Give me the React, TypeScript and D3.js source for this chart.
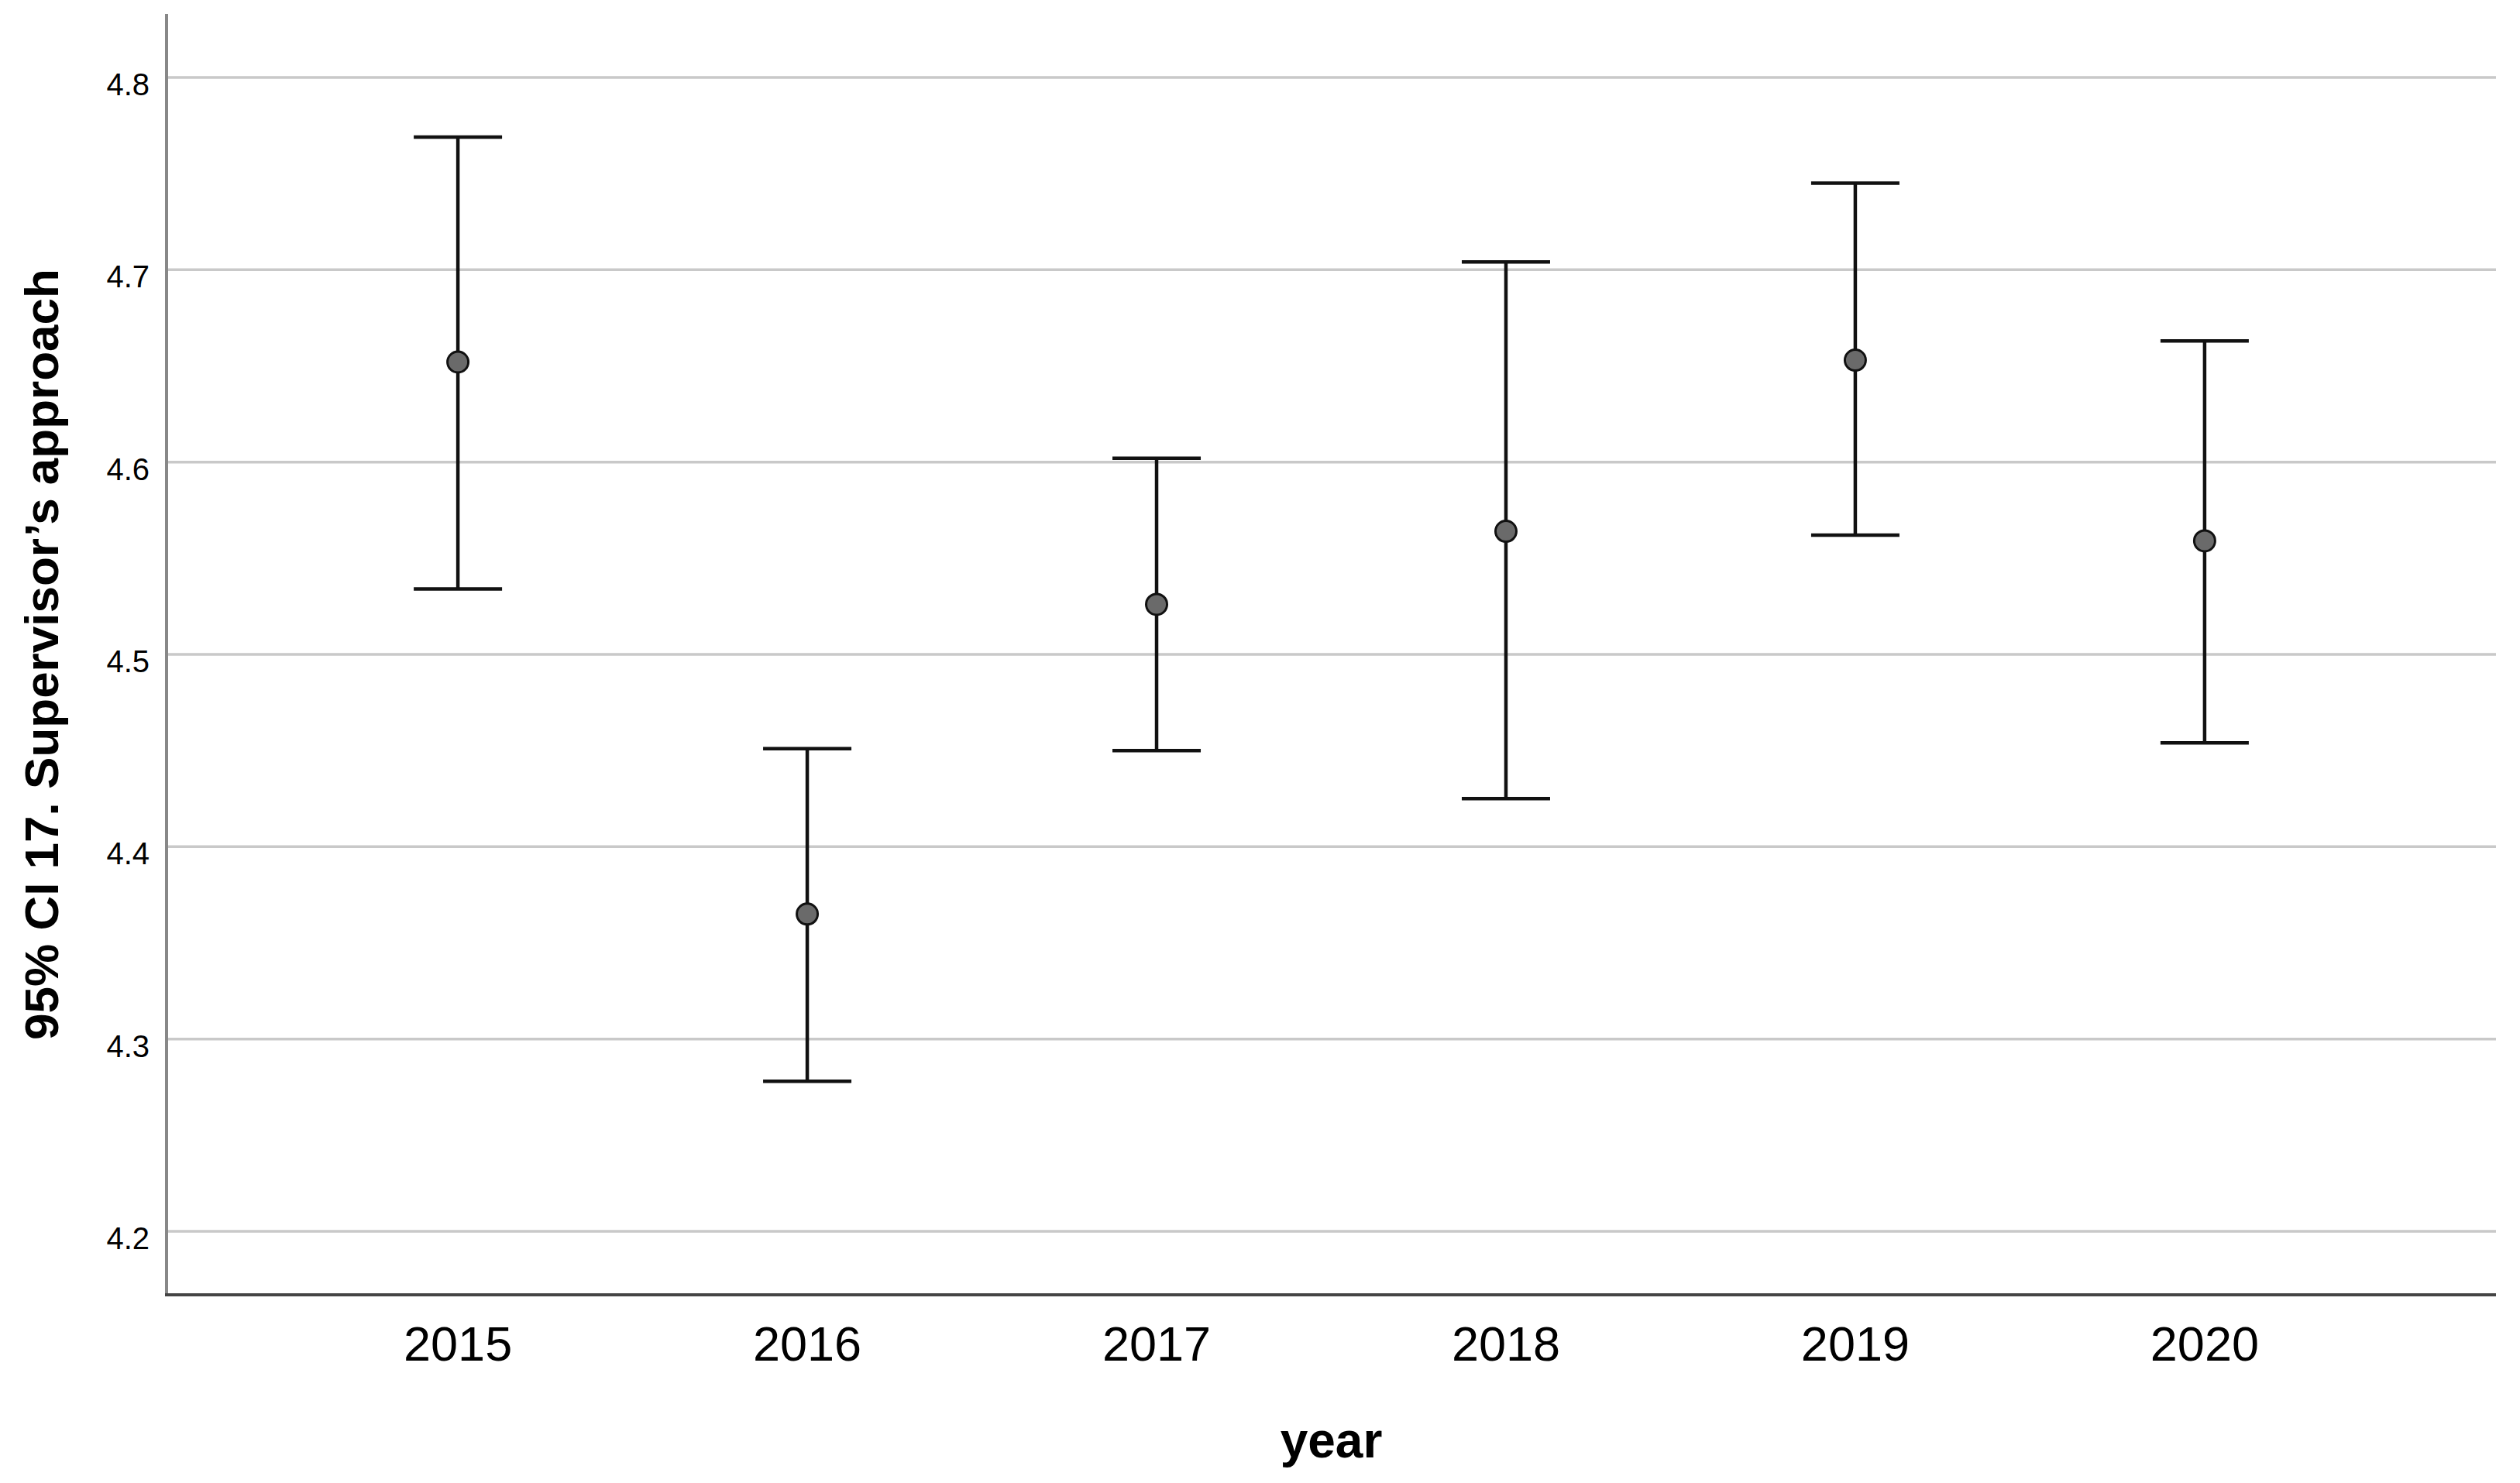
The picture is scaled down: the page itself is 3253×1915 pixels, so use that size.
import React from "react";
import * as d3 from "d3";

const years = ["2015", "2016", "2017", "2018", "2019", "2020"];
const means = [4.652, 4.365, 4.526, 4.564, 4.653, 4.559];
const lowers = [4.534, 4.278, 4.450, 4.425, 4.562, 4.454];
const uppers = [4.769, 4.451, 4.602, 4.704, 4.745, 4.663];
const yTicks = [4.2, 4.3, 4.4, 4.5, 4.6, 4.7, 4.8];
const yDomain = [4.167, 4.833];

const W = 3253;
const H = 1915;
const left = 215;
const right = 3222;
const top = 18;
const bottom = 1672;
const font = "'Liberation Sans', Arial, sans-serif";

export default function App() {
  const x = d3.scalePoint<string>().domain(years).range([left, right]).padding(0.834);
  const y = d3.scaleLinear().domain(yDomain).range([bottom, top]);
  const capHalf = 57;

  return (
    <svg width={W} height={H} style={{ position: "absolute", left: 0, top: 0, background: "#fff" }}>
      <rect x={0} y={0} width={W} height={H} fill="#ffffff" />
      {yTicks.map((t) => (
        <g key={t}>
          <line x1={left} x2={right} y1={y(t)} y2={y(t)} stroke="#c9c9c9" strokeWidth={3.5} />
          <text x={193} y={y(t) + 23} textAnchor="end" fontFamily={font} fontSize={40} fill="#000">
            {d3.format(".1f")(t)}
          </text>
        </g>
      ))}
      <line x1={left} x2={left} y1={top} y2={bottom} stroke="#888" strokeWidth={4} />
      <line x1={left - 2} x2={right} y1={bottom} y2={bottom} stroke="#444" strokeWidth={4} />
      {years.map((yr, i) => {
        const cx = x(yr)!;
        return (
          <g key={yr}>
            <line x1={cx} x2={cx} y1={y(uppers[i])} y2={y(lowers[i])} stroke="#111" strokeWidth={4.5} />
            <line x1={cx - capHalf} x2={cx + capHalf} y1={y(uppers[i])} y2={y(uppers[i])} stroke="#111" strokeWidth={4.5} />
            <line x1={cx - capHalf} x2={cx + capHalf} y1={y(lowers[i])} y2={y(lowers[i])} stroke="#111" strokeWidth={4.5} />
            <circle cx={cx} cy={y(means[i])} r={13.5} fill="#6a6a6a" stroke="#111" strokeWidth={3} />
            <text x={cx} y={1757} textAnchor="middle" fontFamily={font} fontSize={63} fill="#000">
              {yr}
            </text>
          </g>
        );
      })}
      <text x={(left + right) / 2} y={1882} textAnchor="middle" fontFamily={font} fontSize={64} fontWeight="bold" fill="#000">
        year
      </text>
      <text
        transform={`translate(75, 845) rotate(-90)`}
        textAnchor="middle"
        fontFamily={font}
        fontSize={62}
        fontWeight="bold"
        fill="#000"
      >
        95% CI 17. Supervisor’s approach
      </text>
    </svg>
  );
}
